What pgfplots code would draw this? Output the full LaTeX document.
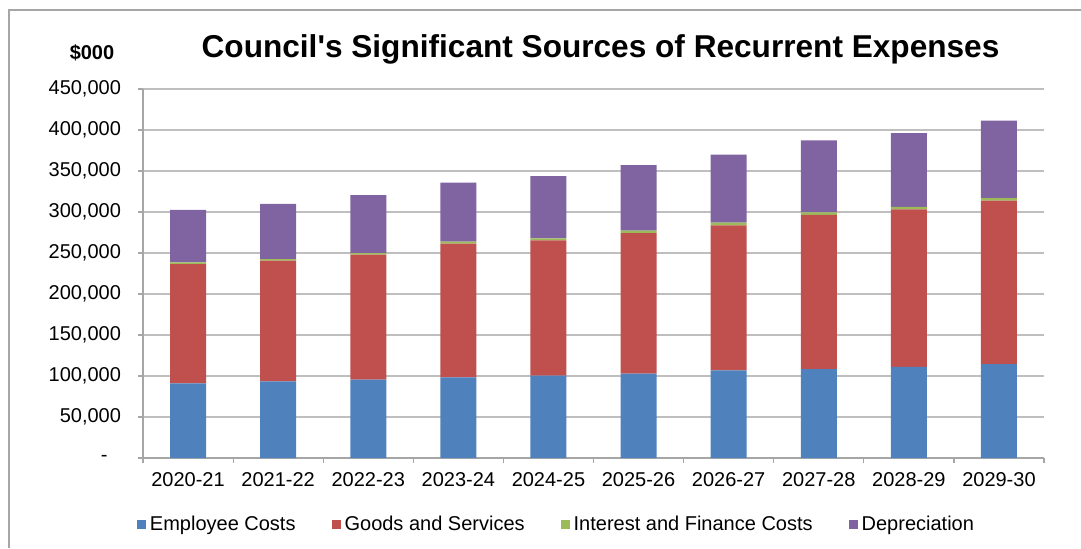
\documentclass[border=0pt]{standalone}
\usepackage{pgfplots}
\pgfplotsset{compat=1.18}
\usepackage{fontspec}
\setmainfont{Liberation Sans}
\definecolor{cblue}{HTML}{4F81BD}
\definecolor{cred}{HTML}{C0504D}
\definecolor{cgreen}{HTML}{9BBB59}
\definecolor{cpurple}{HTML}{8064A2}
\definecolor{gridc}{HTML}{BFBFBF}
\definecolor{axisc}{HTML}{A6A6A6}
\begin{document}
\begin{tikzpicture}
\path[use as bounding box] (0,0) rectangle (540.5pt,-274pt);
\draw[axisc, line width=1pt] (4.5pt,-274pt) -- (4.5pt,-5pt) -- (540.5pt,-5pt);
\node[font=\fontsize{15.8}{18}\selectfont\bfseries] at (300.25pt,-24.5pt) {Council\textquotesingle s Significant Sources of Recurrent Expenses};
\node[font=\fontsize{10}{12}\selectfont\bfseries] at (46pt,-26.5pt) {\$000};
\begin{axis}[
  at={(71.5pt,-229pt)}, anchor=south west,
  scale only axis, width=450.5pt, height=184.5pt,
  ybar stacked, bar width=18pt,
  xmin=-0.5, xmax=9.5, ymin=0, ymax=450000,
  scaled y ticks=false,
  axis lines*=left,
  axis line style={axisc, line width=0.6pt},
  ymajorgrids, grid style={gridc, line width=0.7pt},
  ytick={0,50000,...,450000},
  yticklabels={{\makebox[10pt][l]{-}},{50,000},{100,000},{150,000},{200,000},{250,000},{300,000},{350,000},{400,000},{450,000}},
  xtick={0,...,9},
  xticklabels={2020-21,2021-22,2022-23,2023-24,2024-25,2025-26,2026-27,2027-28,2028-29,2029-30},
  minor xtick={-0.5,0.5,...,9.5},
  major x tick style={draw=none},
  minor x tick style={axisc, line width=0.6pt},
  y tick style={axisc, line width=0.6pt},
  tick align=outside, major tick length=2.5pt, minor tick length=2.5pt,
  ticklabel style={font=\fontsize{10}{12}\selectfont},
  yticklabel style={xshift=-5pt},
  xticklabel style={yshift=-1pt},
  /pgf/number format/assume math mode=true,
  legend columns=4,
  legend style={draw=none, fill=none, at={(0.46,-0.18)}, anchor=center,
    font=\fontsize{10}{12}\selectfont,
    /tikz/every even column/.append style={column sep=16pt}},
  legend image code/.code={\fill[#1] (0pt,-2.25pt) rectangle (4.5pt,2.25pt);},
]
\addplot[fill=cblue, draw=none] coordinates {(0,91000) (1,93500) (2,95500) (3,98400) (4,100400) (5,102800) (6,106900) (7,108300) (8,111100) (9,114400)};
\addplot[fill=cred, draw=none] coordinates {(0,145500) (1,147200) (2,152500) (3,163000) (4,165000) (5,171600) (6,176800) (7,188100) (8,192200) (9,199500)};
\addplot[fill=cgreen, draw=none] coordinates {(0,2000) (1,2000) (2,2000) (3,2500) (4,2500) (5,3000) (6,3500) (7,3300) (8,3000) (9,3000)};
\addplot[fill=cpurple, draw=none] coordinates {(0,64200) (1,67100) (2,70700) (3,72000) (4,76000) (5,79700) (6,82900) (7,87600) (8,90000) (9,94500)};
\legend{Employee Costs, Goods and Services, Interest and Finance Costs, Depreciation}
\end{axis}
\end{tikzpicture}
\end{document}
